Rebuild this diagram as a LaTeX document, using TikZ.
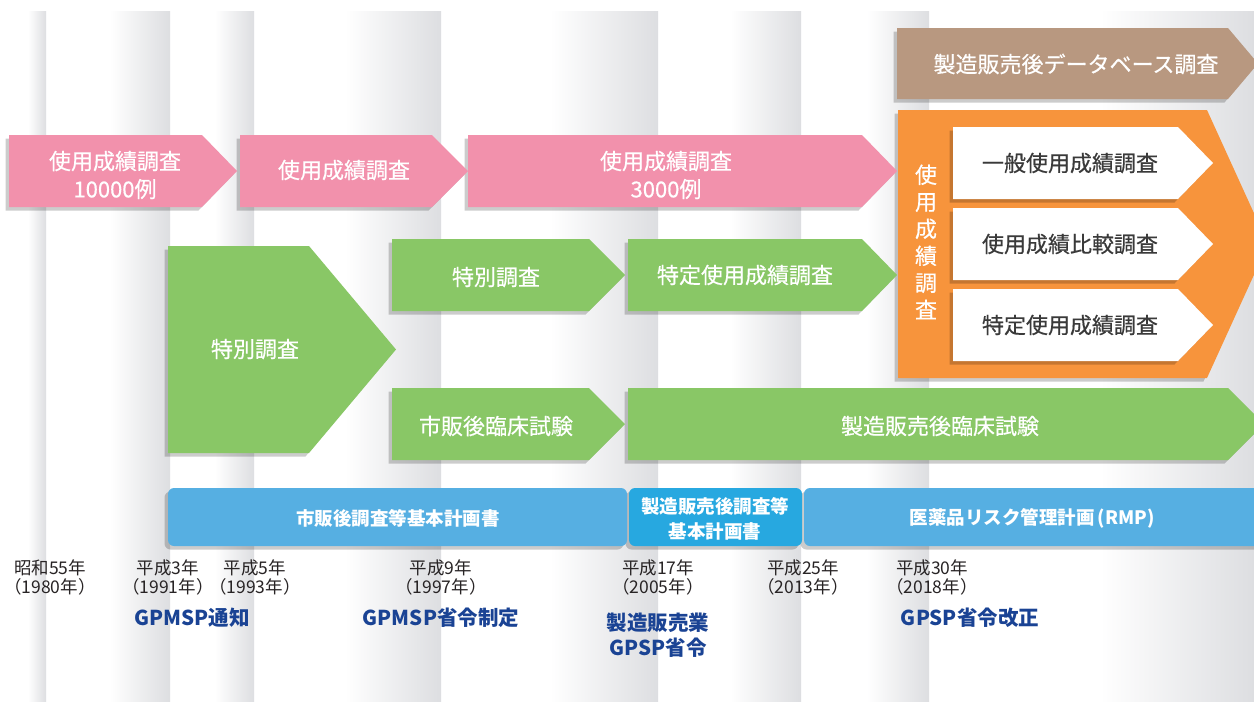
\documentclass[tikz,border=0pt]{standalone}
\usepackage{fontspec}
\setmainfont{Noto Sans CJK JP}
\newfontfamily\jpmed{Noto Sans CJK JP}[FakeBold=0.5]
\usetikzlibrary{shadows}
\definecolor{stripe}{RGB}{221,222,225}
\definecolor{pinkc}{RGB}{242,145,172}
\definecolor{greenc}{RGB}{137,199,102}
\definecolor{orangec}{RGB}{247,148,60}
\definecolor{brownc}{RGB}{184,152,128}
\definecolor{bluea}{RGB}{86,175,226}
\definecolor{blueb}{RGB}{39,168,224}
\definecolor{navy}{RGB}{26,67,148}
\definecolor{yeartxt}{RGB}{40,36,37}
\definecolor{darktxt}{RGB}{58,58,58}
\newcommand\chev[6]{% style, x1, y1, xflat, y2, xtip
  \fill[#1] (#2,#3) -- (#4,#3) -- (#6,{(#3+#5)/2}) -- (#4,#5) -- (#2,#5) -- cycle;}
\begin{document}
\begin{tikzpicture}[x=1pt,y=-1pt,
  shd/.style={drop shadow={shadow xshift=-3.5pt,shadow yshift=-3.5pt,opacity=0.2,fill=black}},
  wt/.style={text=white,font=\jpmed\fontsize{22}{28}\selectfont,align=center,inner sep=0pt},
  dt/.style={text=darktxt,font=\jpmed\fontsize{22}{28}\selectfont,align=center,inner sep=0pt},
  bt/.style={text=white,font=\fontsize{18.5}{24.5}\selectfont\bfseries,align=center,inner sep=0pt},
  yt/.style={text=yeartxt,font=\fontsize{17.5}{19}\selectfont,align=center,inner sep=0pt},
  lt/.style={text=navy,font=\fontsize{20.5}{25}\selectfont\bfseries,align=center,inner sep=0pt},
  barbox/.style={rounded corners=6pt,shd}]
\useasboundingbox (0,0) rectangle (1254,702);
\clip (0,0) rectangle (1254,702);
\fill[white] (0,0) rectangle (1254,702);
% background columns
\foreach \b/\c in {28/46, 110/170, 215/254, 345/441, 550/658, 730/801, 867/929, 1100/1254}{
  \shade[left color=white,right color=stripe] (\b,11) rectangle (\c,702);
}
% brown
\chev{brownc,shd}{897}{28}{1228}{99}{1258}
% orange block
\chev{orangec,shd}{898}{110}{1207}{378}{1268}
\chev{white,shd}{953}{127}{1178}{199}{1213}
\chev{white,shd}{953}{208}{1178}{280}{1213}
\chev{white,shd}{953}{289}{1178}{361}{1213}
% pink row
\chev{pinkc,shd}{468}{135}{862}{207}{897}
\chev{pinkc,shd}{240}{135}{432}{207}{468}
\chev{pinkc,shd}{9}{135}{202}{207}{237}
% green
\chev{greenc,shd}{628}{388}{1228}{460}{1264}
\chev{greenc,shd}{628}{239}{862}{311}{897}
\chev{greenc,shd}{392}{388}{589}{460}{625}
\chev{greenc,shd}{392}{239}{589}{311}{625}
\chev{greenc,shd}{168}{246}{309}{453}{396}
% blue bars
\fill[bluea,barbox] (804,488) rectangle (1280,546);
\fill[blueb,barbox] (629,488) rectangle (802,546);
\fill[bluea,barbox] (168,488) rectangle (627,546);
% texts
\node[wt] (p1) at (115,175) {使用成績調査\\10000例};
\node[wt] (p2) at (344,170) {使用成績調査};
\node[wt] (p3) at (666,175) {使用成績調査\\3000例};
\node[wt] (br) at (1076,64) {製造販売後データベース調査};
\node[wt,font=\jpmed\fontsize{22}{27}\selectfont] (ov) at (926,242) {使\\用\\成\\績\\調\\査};
\node[dt] (o1) at (1070,163) {一般使用成績調査};
\node[dt] (o2) at (1070,244) {使用成績比較調査};
\node[dt] (o3) at (1070,325) {特定使用成績調査};
\node[wt] (g1) at (255,349) {特別調査};
\node[wt] (g2) at (496,277) {特別調査};
\node[wt] (g3) at (496,426) {市販後臨床試験};
\node[wt] (g4) at (745,275) {特定使用成績調査};
\node[wt] (g5) at (940,426) {製造販売後臨床試験};
\node[bt] (b1) at (398,518) {市販後調査等基本計画書};
\node[bt] (b2) at (715,519) {製造販売後調査等\\基本計画書};
\node[bt] (b3) at (1032,518) {医薬品リスク管理計画\,(RMP)};
% years
\node[yt] (y1) at (50,577) {昭和55年\\（1980年）};
\node[yt] (y2) at (168,577) {平成3年\\（1991年）};
\node[yt] (y3) at (255,577) {平成5年\\（1993年）};
\node[yt] (y4) at (441,577) {平成9年\\（1997年）};
\node[yt] (y5) at (658,577) {平成17年\\（2005年）};
\node[yt] (y6) at (803,577) {平成25年\\（2013年）};
\node[yt] (y7) at (932,577) {平成30年\\（2018年）};
% events
\node[lt] (l1) at (192,618) {GPMSP通知};
\node[lt] (l2) at (441,618) {GPMSP省令制定};
\node[lt] (l3) at (658,635) {製造販売業\\GPSP省令};
\node[lt] (l4) at (970,618) {GPSP省令改正};
\end{tikzpicture}
\end{document}
